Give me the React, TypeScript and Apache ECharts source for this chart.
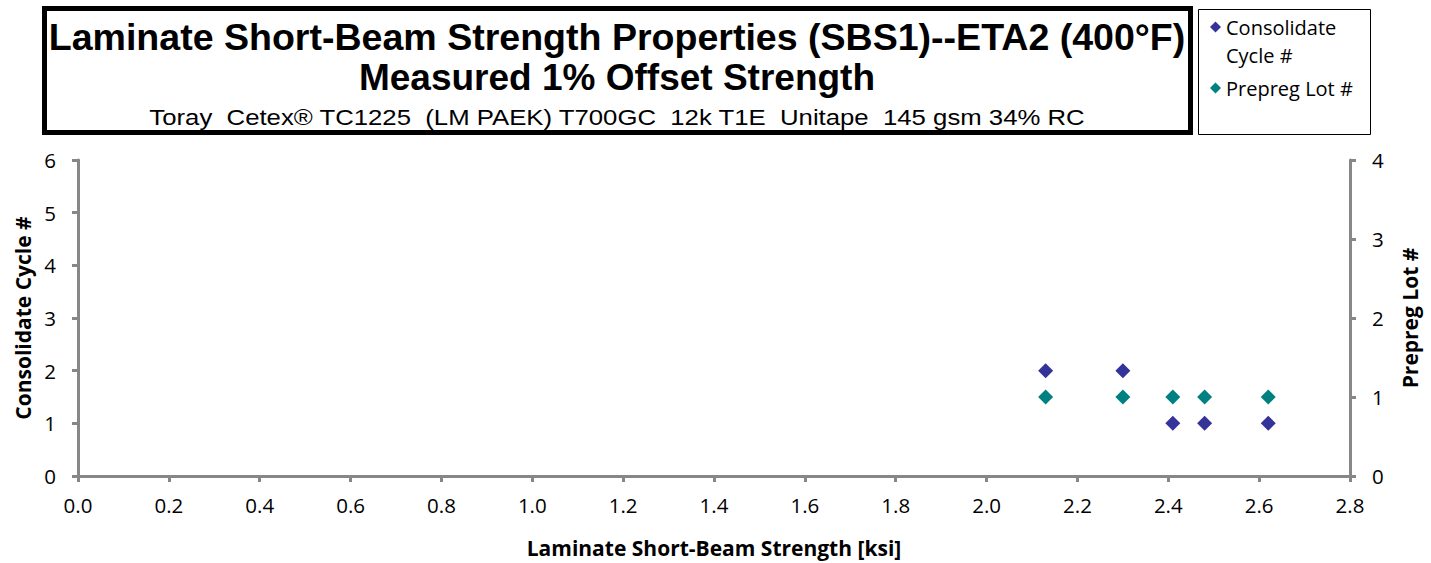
import React, { useEffect, useRef } from "react";
import * as echarts from "echarts";

const strengthKsi = [2.13, 2.30, 2.41, 2.48, 2.62];
const consolidateCycle = [2, 2, 1, 1, 1];
const prepregLot = [1, 1, 1, 1, 1];

const titleLine1 = "Laminate Short-Beam Strength Properties (SBS1)--ETA2 (400°F)";
const titleLine2 = "Measured 1% Offset Strength";
const titleLine3 = "Toray  Cetex® TC1225  (LM PAEK) T700GC  12k T1E  Unitape  145 gsm 34% RC";

const seriesNames = ["Consolidate Cycle #", "Prepreg Lot #"];
const colors = ["#333399", "#008080"];

const axisColor = "#878787";
const labelFont = "'Open Sans', Lato, sans-serif";
const titleFont = "'Liberation Sans', Arial, sans-serif";

export default function App() {
  const ref = useRef<HTMLDivElement>(null);
  useEffect(() => {
    document.body.style.margin = "0";
    const chart = echarts.init(ref.current!, null, { renderer: "svg" });
    const axisCommon = {
      axisLine: { show: true, lineStyle: { color: axisColor, width: 3 } },
      axisTick: { show: true, length: 6, lineStyle: { color: axisColor, width: 3 } },
      splitLine: { show: false },
      axisLabel: { color: "#000", fontSize: 20.5, fontFamily: labelFont },
      nameTextStyle: { color: "#000", fontSize: 21, fontWeight: "bold", fontFamily: labelFont },
    };
    chart.setOption({
      animation: false,
      backgroundColor: "#fff",
      grid: { left: 78, right: 81, top: 160, bottom: 86 },
      xAxis: {
        type: "value",
        min: 0,
        max: 2.8,
        interval: 0.2,
        ...axisCommon,
        axisLabel: { ...axisCommon.axisLabel, margin: 18, formatter: (v: number) => v.toFixed(1) },
        name: "Laminate Short-Beam Strength [ksi]",
        nameLocation: "middle",
        nameGap: 61,
      },
      yAxis: [
        {
          type: "value",
          min: 0,
          max: 6,
          interval: 1,
          position: "left",
          ...axisCommon,
          axisLabel: { ...axisCommon.axisLabel, margin: 22 },
          name: "Consolidate Cycle #",
          nameLocation: "middle",
          nameRotate: 90,
          nameGap: 45,
        },
        {
          type: "value",
          min: 0,
          max: 4,
          interval: 1,
          position: "right",
          ...axisCommon,
          axisLabel: { ...axisCommon.axisLabel, margin: 22 },
          name: "Prepreg Lot #",
          nameLocation: "middle",
          nameRotate: 90,
          nameGap: 49,
        },
      ],
      legend: [
        {
          data: [seriesNames[0]],
          left: 1205,
          top: 12,
          icon: "diamond",
          itemWidth: 11,
          itemHeight: 11,
          formatter: () => "Consolidate",
          textStyle: { fontSize: 20, fontFamily: labelFont, color: "#000" },
        },
        {
          data: [seriesNames[1]],
          left: 1205,
          top: 73,
          icon: "diamond",
          itemWidth: 11,
          itemHeight: 11,
          formatter: () => "Prepreg Lot #",
          textStyle: { fontSize: 20, fontFamily: labelFont, color: "#000" },
        },
      ],
      graphic: [
        {
          type: "rect",
          shape: { x: 44.5, y: 8.5, width: 1146, height: 124 },
          style: { fill: "none", stroke: "#000", lineWidth: 5 },
          z: 10,
        },
        {
          type: "rect",
          shape: { x: 1198.5, y: 9.5, width: 172, height: 125 },
          style: { fill: "none", stroke: "#000", lineWidth: 1 },
          z: 10,
        },
        {
          type: "text",
          x: 1226,
          y: 55,
          style: { text: "Cycle #", fontSize: 20, fontFamily: labelFont, fill: "#000", verticalAlign: "middle" },
          z: 10,
        },
        {
          type: "text",
          x: 617,
          y: 37,
          scaleX: 1.015,
          style: {
            text: titleLine1,
            fontSize: 37,
            fontWeight: "bold",
            fontFamily: titleFont,
            fill: "#000",
            align: "center",
            verticalAlign: "middle",
          },
          z: 10,
        },
        {
          type: "text",
          x: 617,
          y: 77,
          style: {
            text: titleLine2,
            fontSize: 37,
            fontWeight: "bold",
            fontFamily: titleFont,
            fill: "#000",
            align: "center",
            verticalAlign: "middle",
          },
          z: 10,
        },
        {
          type: "text",
          x: 617,
          y: 117,
          scaleX: 1.17,
          style: {
            text: titleLine3,
            fontSize: 22,
            fontFamily: titleFont,
            fill: "#000",
            align: "center",
            verticalAlign: "middle",
          },
          z: 10,
        },
      ],
      series: [
        {
          name: seriesNames[0],
          type: "scatter",
          yAxisIndex: 0,
          symbol: "diamond",
          symbolSize: 15,
          itemStyle: { color: colors[0], opacity: 1 },
          data: strengthKsi.map((x, i) => [x, consolidateCycle[i]]),
        },
        {
          name: seriesNames[1],
          type: "scatter",
          yAxisIndex: 1,
          symbol: "diamond",
          symbolSize: 15,
          itemStyle: { color: colors[1], opacity: 1 },
          data: strengthKsi.map((x, i) => [x, prepregLot[i]]),
        },
      ],
    });
    return () => chart.dispose();
  }, []);
  return <div ref={ref} style={{ width: 1431, height: 563 }} />;
}
